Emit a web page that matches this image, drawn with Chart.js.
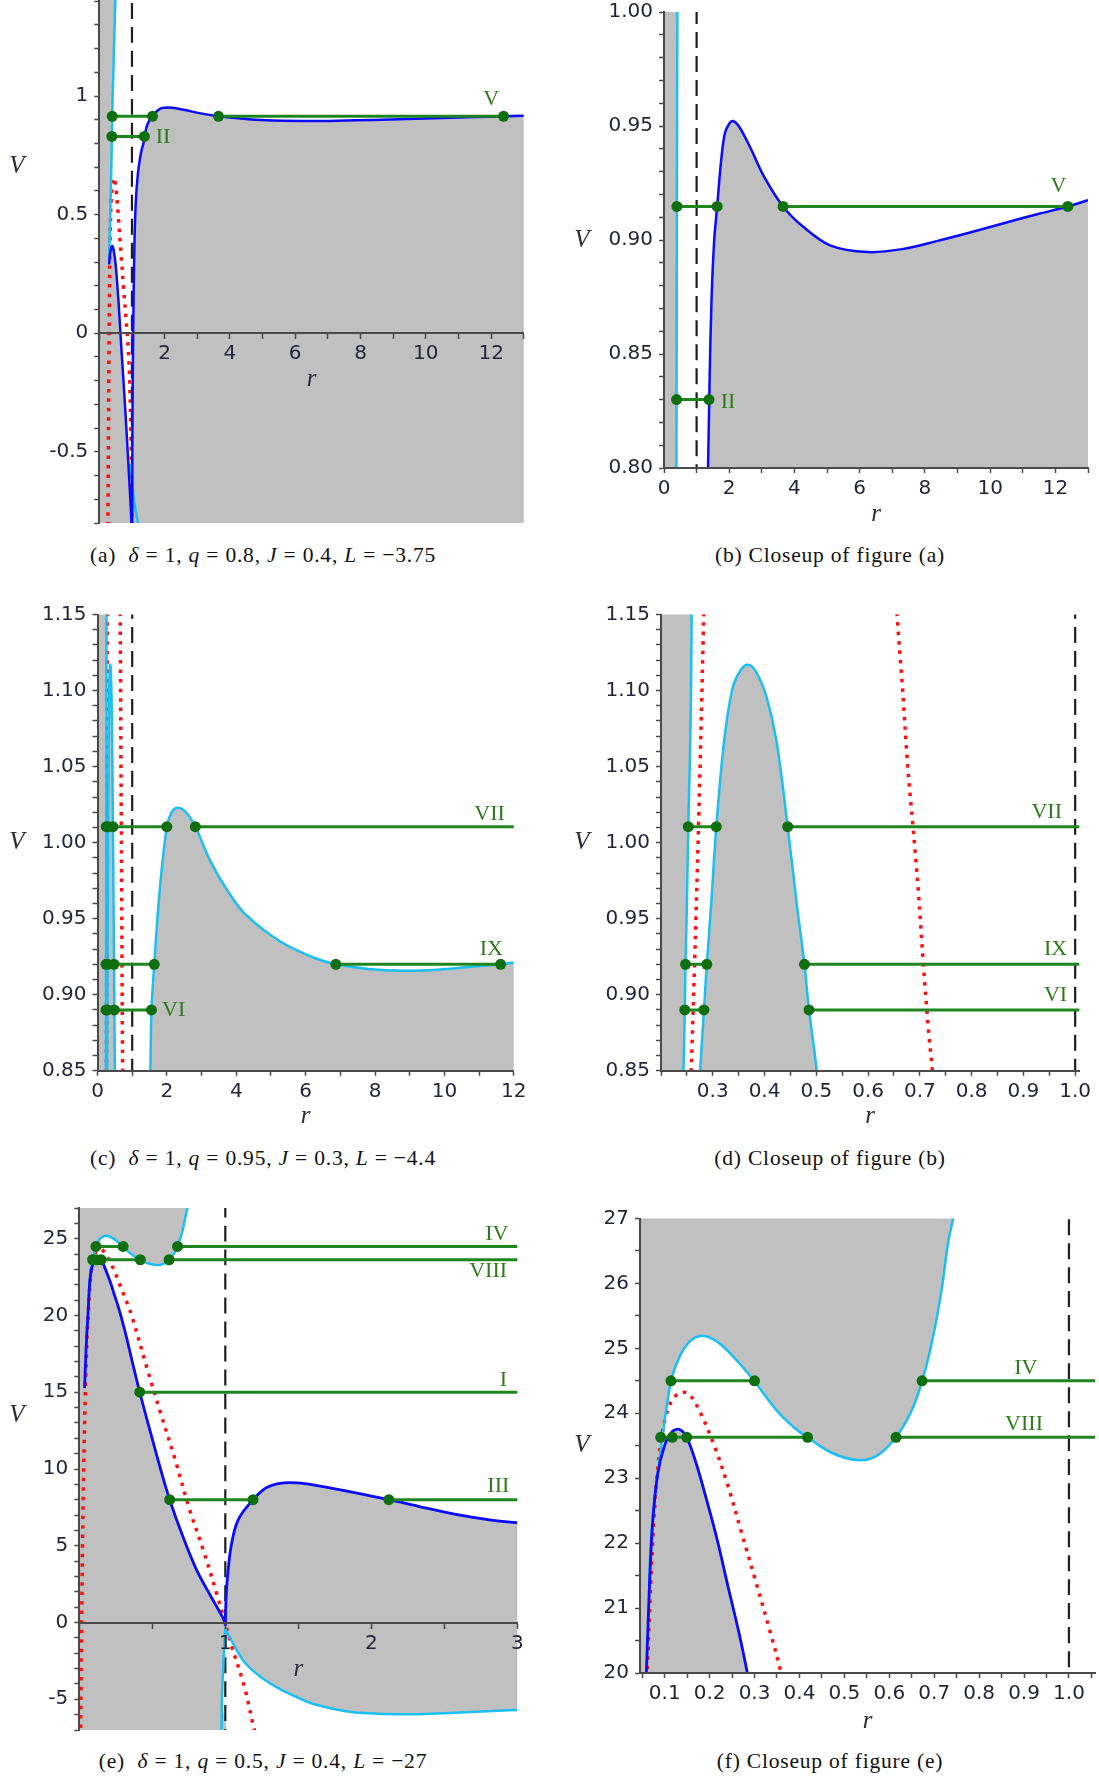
<!DOCTYPE html>
<html>
<head>
<meta charset="utf-8">
<title>Effective potentials V(r)</title>
<script src="https://cdn.jsdelivr.net/npm/chart.js@4.4.1/dist/chart.umd.min.js"></script>
<style>
  body { margin: 0; background: #fff; }
  #page { position: relative; width: 1099px; height: 1778px; overflow: hidden; }
  #page canvas { position: absolute; }
  .cap { position: absolute; transform: translate(-50%, -50%); white-space: nowrap;
         font-family: "Liberation Serif", serif; font-size: 21.5px; letter-spacing: 0.8px; color: #111; }
</style>
</head>
<body>
<div id="page">
  <canvas id="figA" width="550" height="540" style="left:0;top:0"></canvas>
  <canvas id="figB" width="549" height="540" style="left:550px;top:0"></canvas>
  <canvas id="figC" width="550" height="545" style="left:0;top:590px"></canvas>
  <canvas id="figD" width="549" height="545" style="left:550px;top:590px"></canvas>
  <canvas id="figE" width="550" height="545" style="left:0;top:1195px"></canvas>
  <canvas id="figF" width="549" height="545" style="left:550px;top:1195px"></canvas>

  <div class="cap" style="left:263px;top:555px">(a)&nbsp; <i>δ</i> = 1, <i>q</i> = 0.8, <i>J</i> = 0.4, <i>L</i> = −3.75</div>
  <div class="cap" style="left:830px;top:555px">(b) Closeup of figure (a)</div>
  <div class="cap" style="left:263px;top:1158px">(c)&nbsp; <i>δ</i> = 1, <i>q</i> = 0.95, <i>J</i> = 0.3, <i>L</i> = −4.4</div>
  <div class="cap" style="left:830px;top:1158px">(d) Closeup of figure (b)</div>
  <div class="cap" style="left:263px;top:1761px">(e)&nbsp; <i>δ</i> = 1, <i>q</i> = 0.5, <i>J</i> = 0.4, <i>L</i> = −27</div>
  <div class="cap" style="left:830px;top:1761px">(f) Closeup of figure (e)</div>
</div>

<script>
// ---------- figure (a) and its closeup (b): points [r, V]
const abCyan = [[0.53,1.6],[0.50,1.45],[0.46,1.25],[0.42,1.05],[0.41,1.0],[0.395,0.915],[0.385,0.83],[0.38,0.78],
  [0.36,0.65],[0.34,0.52],[0.32,0.41],[0.30,0.31]];
const abCyanLow = [[0.95,-0.55],[1.0,-0.62],[1.06,-0.70],[1.13,-0.76],[1.2,-0.81],[1.25,-0.85]];
const abBlueHump = [[0.30,0.29],[0.33,0.335],[0.37,0.362],[0.40,0.368],[0.44,0.35],[0.50,0.29],[0.585,0.14],
  [0.66,-0.03],[0.74,-0.2],[0.82,-0.38],[0.89,-0.55],[0.95,-0.70],[0.985,-0.80],[0.995,-0.85]];
const abBlueRight = [[1.005,-0.85],[1.015,-0.4],[1.03,-0.1],[1.05,0.15],[1.08,0.4],[1.12,0.56],[1.18,0.67],
  [1.25,0.74],[1.30,0.775],[1.35,0.80],[1.40,0.84],[1.46,0.875],[1.54,0.90],[1.63,0.9147],[1.76,0.936],
  [1.87,0.947],[2.0,0.951],[2.11,0.9522],[2.30,0.9498],[2.63,0.941],[3.06,0.928],[3.65,0.9147],[4.25,0.906],
  [5.11,0.8975],[6.25,0.8947],[7.3,0.896],[8.36,0.8995],[9.44,0.9035],[10.5,0.9077],[11.5,0.9115],
  [12.38,0.9147],[13.0,0.9175],[13.5,0.92]];
const abRed = [[0.26,-0.85],[0.28,-0.45],[0.295,-0.1],[0.31,0.15],[0.33,0.4],[0.37,0.58],[0.42,0.645],
  [0.46,0.655],[0.52,0.6],[0.59,0.48],[0.67,0.33],[0.75,0.18],[0.82,0.06],[0.88,-0.05],[0.93,-0.2],
  [0.97,-0.45],[0.995,-0.7],[1.005,-0.85]];
const abDash = [[1,-0.9],[1,1.5]];
const abLevelV = 0.9147, abLevelVDots = [0.395, 1.63, 3.65, 12.38], abLevelVSegs = [[0.395,1.63],[3.65,12.38]];
const abLevelII = 0.83, abLevelIIDots = [0.385, 1.38], abLevelIISegs = [[0.385,1.38]];

// ---------- figure (c) and its closeup (d)
const cdCyanLine = [[0.261,1.25],[0.2595,1.17],[0.258,1.1],[0.2555,1.05],[0.2527,1.0105],[0.2495,0.95],[0.2473,0.92],
  [0.246,0.89],[0.2435,0.85],[0.243,0.83]];
const cdCyanHump = [[0.274,0.83],[0.2757,0.85],[0.283,0.89],[0.2885,0.92],[0.297,0.96],[0.3068,1.0105],
  [0.322,1.067],[0.3385,1.102],[0.355,1.114],[0.3676,1.117],[0.3825,1.113],[0.4028,1.097],[0.423,1.067],
  [0.4447,1.0105],[0.4636,0.956],[0.4771,0.92],[0.4859,0.89],[0.5008,0.85],[0.504,0.83]];
const cdCyanFar = [[1.51,0.83],[1.525,0.85],[1.556,0.89],[1.636,0.92],[1.79,0.968],[2.0,1.0105],[2.14,1.02],
  [2.32,1.023],[2.55,1.02],[2.82,1.0105],[3.25,0.988],[3.76,0.968],[4.26,0.953],[5.27,0.935],[6.28,0.924],
  [6.87,0.92],[7.8,0.917],[8.8,0.9158],[9.8,0.9165],[10.83,0.9185],[11.62,0.92],[12.0,0.9212],[12.5,0.922]];
const cdRed1 = [[0.284,1.17],[0.2755,1.05],[0.2675,0.95],[0.2565,0.83]];
const cdRed2 = [[0.654,1.17],[0.656,1.15],[0.666,1.104],[0.6766,1.05],[0.6868,1.0105],[0.697,0.9685],
  [0.707,0.919],[0.7172,0.8747],[0.724,0.85],[0.726,0.83]];
const cdDash = [[1,0.8],[1,1.2]];
const cdLevelVII = 1.0105, cdVIIDots = [0.2527,0.3068,0.4447,2.0,2.82], cdVIISegs = [[0.2527,0.3068],[0.4447,2.0],[2.82,12.5]];
const cdLevelIX = 0.92, cdIXDots = [0.2473,0.2885,0.4771,1.636,6.87,11.62], cdIXSegs = [[0.2473,0.2885],[0.4771,1.636],[6.87,11.62]];
const cdLevelVI = 0.89, cdVIDots = [0.246,0.283,0.4859,1.556], cdVISegs = [[0.246,0.283],[0.4859,1.556]];

// ---------- figure (e) and its closeup (f)
const efRed = [[0.009,-7.5],[0.012,-4],[0.016,0],[0.022,5],[0.03,10],[0.04,14.5],[0.05,17.8],[0.056,19.2],
  [0.061,20.0],[0.069,21.38],[0.0804,22.82],[0.096,23.75],[0.1157,24.2],[0.1376,24.32],[0.155,24.29],
  [0.178,24.03],[0.21,23.51],[0.241,22.88],[0.2725,22.13],[0.304,21.38],[0.335,20.63],[0.359,20.0],
  [0.466,16.5],[0.56,13.55],[0.657,10.6],[0.753,7.43],[0.849,4.73],[0.944,1.79],[1.04,-1.4],[1.135,-4.34],
  [1.2,-7.03],[1.22,-7.5]];
const efCyanTop = [[0.0647,21.2],[0.069,22.02],[0.0765,22.6],[0.0906,23.4],[0.114,24.49],[0.135,24.9],
  [0.155,25.1],[0.178,25.19],[0.202,25.16],[0.233,25.01],[0.2725,24.72],[0.30,24.49],[0.351,24.03],
  [0.39,23.77],[0.418,23.63],[0.469,23.4],[0.527,23.28],[0.571,23.34],[0.615,23.63],[0.649,24.03],
  [0.673,24.49],[0.696,25.13],[0.716,25.88],[0.731,26.63],[0.742,27.0],[0.748,27.3],[0.755,27.8]];
const efBlueHump = [[0.036,15.27],[0.045,17.5],[0.052,18.9],[0.059,19.97],[0.0647,21.1],[0.0725,22.25],
  [0.084,23.05],[0.1,23.51],[0.117,23.72],[0.133,23.75],[0.149,23.63],[0.17,23.23],[0.194,22.65],
  [0.218,22.02],[0.241,21.33],[0.265,20.63],[0.284,20.0],[0.32,18.7],[0.36,17.1],[0.414,15.0],[0.49,12.3],
  [0.56,9.88],[0.619,8.0],[0.705,5.71],[0.80,3.5],[0.896,1.79],[0.97,0.55],[1.0,0.0]];
const efBlueRight = [[1.0,-0.2],[1.003,1.0],[1.011,2.52],[1.04,4.98],[1.088,6.69],[1.19,8.0],[1.279,8.77],
  [1.375,9.07],[1.494,9.09],[1.61,8.95],[1.85,8.53],[2.12,8.0],[2.33,7.55],[2.57,7.06],[2.81,6.69],
  [3.0,6.5],[3.1,6.4]];
const efCyanLowL = [[0.974,-7.5],[0.977,-5],[0.985,-3],[0.993,-1.5],[1.0,-0.4]];
const efCyanLowR = [[1.0,-0.4],[1.04,-1.15],[1.135,-2.62],[1.25,-3.6],[1.375,-4.34],[1.5,-4.9],[1.61,-5.32],
  [1.85,-5.81],[2.1,-5.95],[2.33,-5.97],[2.57,-5.88],[2.8,-5.78],[3.0,-5.69],[3.1,-5.65]];
const efDash = [[1,-8],[1,28]];
const efLevelIV = 24.5, efIVDots = [0.114,0.30,0.673], efIVSegs = [[0.114,0.30],[0.673,3.2]];
const efLevelVIII = 23.63, efVIIIDots = [0.091,0.117,0.149,0.418,0.615], efVIIISegs = [[0.091,0.418],[0.615,3.2]];
const efLevelI = 15.0, efIDots = [0.414], efISegs = [[0.414,3.2]];
const efLevelIII = 8.0, efIIIDots = [0.619,1.19,2.12], efIIISegs = [[0.619,1.19],[2.12,3.2]];

// ---------- tick labels
const aXLabels = [[2,'2'],[4,'4'],[6,'6'],[8,'8'],[10,'10'],[12,'12']];
const aYLabels = [[-0.5,'-0.5'],[0,'0'],[0.5,'0.5'],[1,'1']];
const bXLabels = [[0,'0'],[2,'2'],[4,'4'],[6,'6'],[8,'8'],[10,'10'],[12,'12']];
const bYLabels = [[0.8,'0.80'],[0.85,'0.85'],[0.9,'0.90'],[0.95,'0.95'],[1,'1.00']];
const cdYLabels = [[0.85,'0.85'],[0.9,'0.90'],[0.95,'0.95'],[1,'1.00'],[1.05,'1.05'],[1.1,'1.10'],[1.15,'1.15']];
const dXLabels = [[0.3,'0.3'],[0.4,'0.4'],[0.5,'0.5'],[0.6,'0.6'],[0.7,'0.7'],[0.8,'0.8'],[0.9,'0.9'],[1,'1.0']];
const eXLabels = [[1,'1'],[2,'2'],[3,'3']];
const eYLabels = [[-5,'-5'],[0,'0'],[5,'5'],[10,'10'],[15,'15'],[20,'20'],[25,'25']];
const fXLabels = [[0.1,'0.1'],[0.2,'0.2'],[0.3,'0.3'],[0.4,'0.4'],[0.5,'0.5'],[0.6,'0.6'],[0.7,'0.7'],[0.8,'0.8'],[0.9,'0.9'],[1,'1.0']];
const fYLabels = [[20,'20'],[21,'21'],[22,'22'],[23,'23'],[24,'24'],[25,'25'],[26,'26'],[27,'27']];

// ---------- styling
const GRAY = '#c0c0c0', BLUE = '#0a0aff', CYAN = '#1cbff2', RED = '#ff1010', DASH = '#1e1e1e';
const GREEN = '#1f851f', DOT = '#0f6e0f', TAG = '#2c7a18', AXIS = '#4a4a4a', TICKTXT = '#25253a';
const SMOOTH = 0.35;

function xy(a) { return a.map(p => ({x: p[0], y: p[1]})); }

function curve(a, color, w, order, dash) {
  return {data: xy(a), showLine: true, borderColor: color, borderWidth: w, borderDash: dash || [],
    pointRadius: 0, fill: false, tension: SMOOTH, order: order};
}
function area(a) {
  return {data: xy(a), showLine: true, borderColor: 'rgba(0,0,0,0)', borderWidth: 1, backgroundColor: GRAY,
    pointRadius: 0, fill: 'shape', tension: SMOOTH, order: 9};
}
function level(y, segs, dots) {
  const out = segs.map(s => curve([[s[0], y], [s[1], y]], GREEN, 3, 1));
  out.push({data: dots.map(x => ({x: x, y: y})), showLine: false, pointRadius: 5.5,
    pointBackgroundColor: DOT, pointBorderWidth: 0, order: 0});
  return out;
}

function setsAB() {
  return [
    area([[-1,1.7],[0.54,1.7], ...abCyan, ...abBlueHump.slice(1), [-1,-0.85]]),
    area([...abBlueRight, [13.5,-0.85]]),
    curve(abRed, RED, 3.5, 5, [3.5, 6]),
    curve(abDash, DASH, 2.2, 4, [16, 8]),
    curve(abCyan, CYAN, 2.5, 3), curve(abCyanLow, CYAN, 2.5, 3),
    curve(abBlueHump, BLUE, 2.5, 2), curve(abBlueRight, BLUE, 2.5, 2),
    ...level(abLevelV, abLevelVSegs, abLevelVDots),
    ...level(abLevelII, abLevelIISegs, abLevelIIDots)
  ];
}
function setsCD() {
  return [
    area([[-1,1.3], ...cdCyanLine, [-1,0.8]]),
    area(cdCyanHump),
    area([...cdCyanFar, [12.5,0.8], [1.5,0.8]]),
    curve(cdRed1, RED, 3.5, 5, [3.5, 6]), curve(cdRed2, RED, 3.5, 5, [3.5, 6]),
    curve(cdDash, DASH, 2.2, 4, [16, 8]),
    curve(cdCyanLine, CYAN, 2.5, 3), curve(cdCyanHump, CYAN, 2.5, 3), curve(cdCyanFar, CYAN, 2.5, 3),
    ...level(cdLevelVII, cdVIISegs, cdVIIDots),
    ...level(cdLevelIX, cdIXSegs, cdIXDots),
    ...level(cdLevelVI, cdVISegs, cdVIDots)
  ];
}
function setsEF() {
  return [
    area([[-0.3,28.5],[0.77,28.5], ...efCyanTop.slice().reverse(), ...efBlueHump.slice(5),
      ...efCyanLowL.slice().reverse(), [-0.3,-7.5]]),
    area([...efBlueRight, ...efCyanLowR.slice().reverse()]),
    curve(efRed, RED, 3.5, 5, [3.5, 6]),
    curve(efDash, DASH, 2.2, 4, [16, 8]),
    curve(efCyanTop, CYAN, 2.5, 3), curve(efCyanLowL, CYAN, 2.5, 3), curve(efCyanLowR, CYAN, 2.5, 3),
    curve(efBlueHump, BLUE, 2.8, 2), curve(efBlueRight, BLUE, 2.8, 2),
    ...level(efLevelIV, efIVSegs, efIVDots),
    ...level(efLevelVIII, efVIIISegs, efVIIIDots),
    ...level(efLevelI, efISegs, efIDots),
    ...level(efLevelIII, efIIISegs, efIIIDots)
  ];
}

function axis(min, max, step, labels, size, horiz, pos) {
  return {
    type: 'linear', min: min, max: max, position: pos,
    afterBuildTicks: s => {
      const t = [];
      for (let k = Math.ceil(min / step - 1e-6); k * step <= max + 1e-9; k++) t.push({value: +(k * step).toFixed(6)});
      s.ticks = t;
    },
    afterFit: s => {
      if (horiz) { s.height = size; s.paddingLeft = 0; s.paddingRight = 0; }
      else { s.width = size; s.paddingTop = 0; s.paddingBottom = 0; }
    },
    ticks: {
      z: 2, autoSkip: false, maxRotation: 0, minRotation: 0, color: TICKTXT, padding: horiz ? 4 : 6,
      font: {family: 'DejaVu Sans', size: 20},
      callback: v => { const f = labels.find(l => Math.abs(l[0] - v) < 1e-6); return f ? f[1] : ''; }
    },
    grid: {z: 1, drawOnChartArea: false, drawTicks: true, tickLength: 5, tickColor: AXIS, tickWidth: 1.5},
    border: {z: 1, display: true, color: AXIS, width: 2}
  };
}

function drawTags(chart, spec) {
  const ctx = chart.ctx, xs = chart.scales.x, ys = chart.scales.y, ca = chart.chartArea;
  ctx.save();
  ctx.textBaseline = 'middle';
  ctx.fillStyle = TAG;
  ctx.font = '22px "Liberation Serif"';
  spec.tags.forEach(t => {
    ctx.textAlign = t[3] || 'center';
    ctx.fillText(t[0], xs.getPixelForValue(t[1]), ys.getPixelForValue(t[2]));
  });
  const axisY = spec.cross ? ys.getPixelForValue(0) : ca.bottom;
  ctx.fillStyle = '#2a2a3a';
  ctx.font = 'italic 25px "Liberation Serif"';
  ctx.textAlign = 'center';
  ctx.fillText('V', spec.vx, (ca.top + axisY) / 2);
  ctx.fillText('r', (ca.left + ca.right) / 2, axisY + spec.rOff);
  ctx.restore();
}

function panel(spec) {
  new Chart(document.getElementById(spec.id), {
    type: 'scatter',
    data: {datasets: spec.sets()},
    options: {
      responsive: false, animation: false, events: [],
      layout: {autoPadding: false, padding: {left: 0, top: spec.top, right: spec.right, bottom: spec.bottom || 0}},
      elements: {line: {capBezierPoints: false}},
      plugins: {legend: {display: false}, tooltip: {enabled: false}},
      scales: {
        x: axis(spec.x[0], spec.x[1], spec.x[2], spec.xl, spec.H, true, spec.cross ? {y: 0} : 'bottom'),
        y: axis(spec.y[0], spec.y[1], spec.y[2], spec.yl, spec.W, false, 'left')
      }
    },
    plugins: [{id: 'tags', afterDraw: c => drawTags(c, spec)}]
  });
}

panel({id: 'figA', sets: setsAB, x: [0, 13, 1], y: [-0.8, 1.405, 0.1], xl: aXLabels, yl: aYLabels,
  W: 99.3, H: 17, top: 0, right: 26.2, bottom: 17, cross: true, vx: 17, rOff: 46,
  tags: [['V', 12.0, 0.985], ['II', 1.73, 0.828, 'left']]});
panel({id: 'figB', sets: setsAB, x: [0, 13, 1], y: [0.8, 1.0, 0.01], xl: bXLabels, yl: bYLabels,
  W: 114, H: 72, top: 12, right: 11, cross: false, vx: 32, rOff: 46,
  tags: [['V', 12.09, 0.9234], ['II', 1.74, 0.829, 'left']]});
panel({id: 'figC', sets: setsCD, x: [0, 12, 1], y: [0.85, 1.15, 0.01], xl: bXLabels, yl: cdYLabels,
  W: 97.5, H: 64.2, top: 24.5, right: 36.2, cross: false, vx: 17, rOff: 46,
  tags: [['VII', 11.3, 1.019], ['IX', 11.35, 0.93], ['VI', 1.86, 0.89, 'left']]});
panel({id: 'figD', sets: setsCD, x: [0.2, 1.008, 0.05], y: [0.85, 1.15, 0.01], xl: dXLabels, yl: cdYLabels,
  W: 111, H: 64.2, top: 24.5, right: 19.7, cross: false, vx: 32, rOff: 46,
  tags: [['VII', 0.945, 1.02], ['IX', 0.962, 0.93], ['VI', 0.962, 0.90]]});
panel({id: 'figE', sets: setsEF, x: [0, 3, 0.5], y: [-7, 27, 1], xl: eXLabels, yl: eYLabels,
  W: 79.3, H: 10, top: 13, right: 32.7, bottom: 10, cross: true, vx: 17, rOff: 47,
  tags: [['IV', 2.86, 25.3], ['VIII', 2.80, 22.87], ['I', 2.905, 15.8], ['III', 2.87, 8.9]]});
panel({id: 'figF', sets: setsEF, x: [0.045, 1.058, 0.05], y: [20, 27, 0.5], xl: fXLabels, yl: fYLabels,
  W: 90, H: 67, top: 23.5, right: 4, cross: false, vx: 32, rOff: 48,
  tags: [['IV', 0.904, 24.7], ['VIII', 0.9, 23.83]]});
</script>
</body>
</html>
